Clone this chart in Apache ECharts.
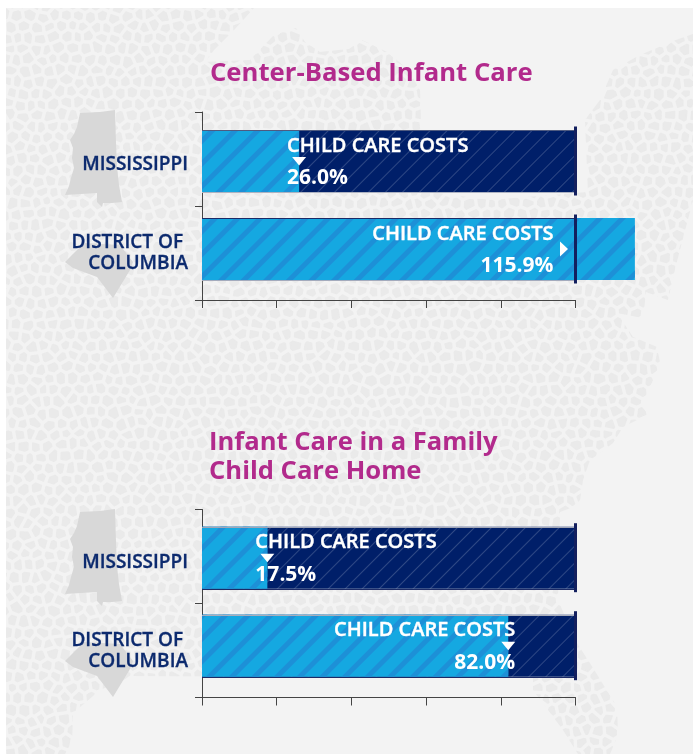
<!DOCTYPE html>
<html>
<head>
<meta charset="utf-8">
<style>
  html, body { margin: 0; padding: 0; background: #fff; }
  #chart { width: 693px; height: 754px; }
</style>
</head>
<body>
<div id="chart"></div>
<script src="https://cdn.jsdelivr.net/npm/echarts@6/dist/echarts.min.js"></script>
<script>
const categories = ['MISSISSIPPI', 'DISTRICT OF \nCOLUMBIA']
const budgetShare = [100, 100]
const centerCosts = [26.0, 115.9]
const familyCosts = [17.5, 82.0]
const calloutHeading = 'CHILD CARE COSTS'

const FONT = '"Open Sans", "Noto Sans", sans-serif'
const LIGHT = '#15a8e1'
const NAVY = '#001f69'
const GRID_LEFT = 202
const GRID_WIDTH = 373.5
const AXIS_TOPS = [112, 509.5]
const AXIS_HEIGHT = 188
// bars and row names do not sit in the middle of the axis bands, so each gets a hidden grid
const BAR_TOPS = [117, 513.7]
const BAR_HEIGHT = 176
const LABEL_TOPS = [120, 517.6]
const LABEL_HEIGHT = 178
const STATE_SHIFT = [0, 399]
// top and bottom rule of each track, the two panels differ a little
const EDGES = [
  [['#4f5b80', '#aeb3c2'], ['#1c2a66', '#a4abbd']],
  [['#a0a5b6', '#1c2a66'], ['#a9adba', '#1c2a66']]
]

const mississippi = [[80, 113], [100, 112], [115, 110], [116, 143], [117, 167], [119, 185], [122, 202], [112, 203],
  [103, 203], [102, 207], [97, 202], [97, 193], [65, 195], [69, 186], [71, 178], [74, 168], [72, 158], [73, 148],
  [70, 140], [74, 134], [77, 127]]
const district = [[84, 243], [120, 245], [133, 262], [130, 270], [113, 298], [97, 277], [73, 268], [65, 262]]

// outline of the pebbled map behind the charts
const mapOutline = [[6, 8], [254, 8], [234, 30], [214, 50], [205, 62], [250, 60], [274, 35], [296, 28], [305, 42],
  [320, 52], [349, 49], [362, 40], [389, 53], [408, 70], [420, 90], [421, 125], [430, 192], [490, 200], [588, 192],
  [585, 120], [600, 100], [613, 70], [640, 55], [676, 40], [693, 34], [693, 200], [676, 265], [668, 300], [646, 292],
  [643, 318], [617, 313], [633, 337], [657, 347], [660, 363], [653, 380], [643, 403], [647, 415], [623, 427],
  [613, 443], [600, 453], [590, 460], [583, 480], [580, 500], [573, 507], [560, 512], [558, 600], [575, 640],
  [593, 668], [617, 707], [618, 735], [610, 754], [578, 754], [563, 730], [533, 690], [533, 678], [133, 676],
  [100, 690], [73, 713], [72, 743], [65, 754], [6, 754]]

// keep the part of a polygon on the near side of a line
function clipPolygon (poly, mx, my, nx, ny) {
  const out = []
  poly.forEach((p, i) => {
    const q = poly[(i + 1) % poly.length]
    const dp = (p[0] - mx) * nx + (p[1] - my) * ny
    const dq = (q[0] - mx) * nx + (q[1] - my) * ny
    if (dp <= 0) out.push(p)
    if (dp * dq < 0) {
      const t = dp / (dp - dq)
      out.push([p[0] + (q[0] - p[0]) * t, p[1] + (q[1] - p[1]) * t])
    }
  })
  return out
}

// background texture only: shrunken voronoi cells around shaken grid points
function pebbleTile () {
  const tile = document.createElement('canvas')
  tile.width = 693
  tile.height = 754
  const ctx = tile.getContext('2d')
  const shake = (a, b) => {
    const s = Math.sin(a * 12.9898 + b * 78.233) * 43758.5453
    return s - Math.floor(s) - 0.5
  }
  const COLS = 60
  const ROWS = 72
  const site = (c, r) => [
    c * 12 + (r % 2) * 6 + shake(c, r) * 6 - 6,
    r * 11 + shake(r + 3, c + 7) * 6 - 6
  ]
  ctx.fillStyle = '#eaeaea'
  ctx.strokeStyle = '#eaeaea'
  ctx.lineWidth = 1.4
  ctx.lineJoin = 'round'
  for (let r = 0; r < ROWS; r++) {
    for (let c = 0; c < COLS; c++) {
      const s = site(c, r)
      let poly = [[s[0] - 9, s[1] - 9], [s[0] + 9, s[1] - 9], [s[0] + 9, s[1] + 9], [s[0] - 9, s[1] + 9]]
      for (let dr = -2; dr <= 2; dr++) {
        for (let dc = -2; dc <= 2; dc++) {
          if (!dr && !dc) continue
          const o = site(c + dc, r + dr)
          const len = Math.hypot(o[0] - s[0], o[1] - s[1])
          const nx = (o[0] - s[0]) / len
          const ny = (o[1] - s[1]) / len
          const mx = (o[0] + s[0]) / 2 - nx * 2.4
          const my = (o[1] + s[1]) / 2 - ny * 2.4
          poly = clipPolygon(poly, mx, my, nx, ny)
        }
      }
      if (poly.length < 3) continue
      ctx.beginPath()
      poly.forEach(p => ctx.lineTo(p[0], p[1]))
      ctx.closePath()
      ctx.fill()
      ctx.stroke()
    }
  }
  return tile
}

function stateShapes () {
  const shapes = []
  STATE_SHIFT.forEach(dy => {
    ;[mississippi, district].forEach(outline => {
      shapes.push({
        type: 'polygon',
        silent: true,
        shape: { points: outline.map(p => [p[0], p[1] + dy]) },
        style: { fill: '#d8d8d8' }
      })
    })
  })
  return shapes
}

function renderEdges (panel) {
  return (params, api) => {
    const row = api.value(1)
    const y = api.coord([0, row])[1]
    const x0 = api.coord([0, row])[0]
    const x1 = api.coord([api.value(0), row])[0]
    const half = 31
    const colors = EDGES[panel][row]
    return {
      type: 'group',
      children: [-half, half].map((d, i) => ({
        type: 'line',
        shape: { x1: x0, y1: Math.round(y + d) + 0.5, x2: x1, y2: Math.round(y + d) + 0.5 },
        style: { stroke: colors[i], lineWidth: 1 }
      }))
    }
  }
}

function renderCallout (params, api) {
  const value = api.value(0)
  const row = api.value(1)
  const [endX, midY] = api.coord([value, row])
  const over = value > 100
  const anchorRight = value > 50
  const lineX = api.coord([100, row])[0]
  const textX = over ? lineX - 22 : (anchorRight ? endX + 7 : endX - 12)
  const points = over
    ? [[lineX - 15.5, midY - 7.5], [lineX - 7.5, midY], [lineX - 15.5, midY + 7.5]]
    : [[endX - 7, midY - 4], [endX + 7, midY - 4], [endX, midY + 4.5]]
  const text = (str, y, font, stroke) => ({
    type: 'text',
    style: {
      text: str,
      x: textX,
      y,
      fill: '#fff',
      stroke: '#fff',
      lineWidth: stroke,
      align: anchorRight ? 'right' : 'left',
      verticalAlign: 'middle',
      font
    }
  })
  return {
    type: 'group',
    children: [
      text(calloutHeading, midY - 15, '600 20px ' + FONT, 0.4),
      { type: 'polygon', shape: { points }, style: { fill: '#fff' } },
      text(value.toFixed(1) + '%', midY + 17.5, '700 21px ' + FONT, 0)
    ]
  }
}

// axis indexes: 0,1 visible frames, 2,3 hidden bar grids, 4,5 hidden row name grids
function panelSeries (panel, costs) {
  const base = { xAxisIndex: panel + 2, yAxisIndex: panel + 2 }
  const rows = data => data.map((v, i) => [v, i])
  return [
    {
      ...base,
      type: 'bar',
      data: budgetShare,
      barWidth: 62,
      barGap: '-100%',
      itemStyle: {
        color: NAVY,
        decal: {
          symbol: 'rect',
          symbolSize: 1,
          color: 'rgba(255,255,255,0.18)',
          dashArrayX: [1, 0],
          dashArrayY: [1, 11],
          rotation: -Math.PI / 4
        }
      }
    },
    {
      ...base,
      type: 'bar',
      data: costs,
      barWidth: 62,
      barGap: '-100%',
      clip: false,
      itemStyle: {
        color: LIGHT,
        decal: {
          symbol: 'rect',
          symbolSize: 1,
          color: '#1d90d7',
          dashArrayX: [1, 0],
          dashArrayY: [5, 11],
          rotation: -Math.PI / 4
        }
      }
    },
    { ...base, type: 'custom', z: 3, data: rows(budgetShare), renderItem: renderEdges(panel) },
    {
      ...base,
      type: 'scatter',
      z: 4,
      data: rows(budgetShare),
      symbol: 'rect',
      symbolSize: [3, 69],
      itemStyle: { color: '#131f5e', opacity: 1 }
    },
    { ...base, type: 'custom', z: 5, data: rows(costs), renderItem: renderCallout }
  ]
}

const chartInstance = echarts.init(document.getElementById('chart'))

const axisLine = { show: true, lineStyle: { color: '#444', width: 1 } }

const valueAxis = (gridIndex, visible) => ({
  type: 'value',
  gridIndex,
  min: 0,
  max: 100,
  interval: 20,
  show: visible,
  axisLine,
  axisTick: { show: true, length: 8, lineStyle: { color: '#444' } },
  axisLabel: { show: false },
  splitLine: { show: false }
})

const hiddenRows = (gridIndex, axisLabel) => ({
  type: 'category',
  gridIndex,
  inverse: true,
  data: categories,
  axisLine: { show: false },
  axisTick: { show: false },
  axisLabel
})

const rowNames = {
  margin: 14,
  fontFamily: FONT,
  fontSize: 19,
  fontWeight: 600,
  color: '#0c2a6e',
  textBorderColor: '#0c2a6e',
  textBorderWidth: 0.3,
  lineHeight: 21
}

const initOption = {
  animation: false,
  title: [
    {
      text: 'Center-Based Infant Care',
      left: 205,
      top: 56,
      textStyle: { fontFamily: FONT, fontSize: 25.7, fontWeight: 700, color: '#b22a8c' }
    },
    {
      text: 'Infant Care in a Family\nChild Care Home',
      left: 204,
      top: 423,
      textStyle: { fontFamily: FONT, fontSize: 25.6, fontWeight: 700, color: '#b22a8c', lineHeight: 29 }
    }
  ],
  grid: [
    ...AXIS_TOPS.map(top => ({ left: GRID_LEFT, top, width: GRID_WIDTH, height: AXIS_HEIGHT })),
    ...BAR_TOPS.map(top => ({ left: GRID_LEFT, top, width: GRID_WIDTH, height: BAR_HEIGHT })),
    ...LABEL_TOPS.map(top => ({ left: GRID_LEFT, top, width: GRID_WIDTH, height: LABEL_HEIGHT }))
  ],
  xAxis: [
    valueAxis(0, true), valueAxis(1, true),
    valueAxis(2, false), valueAxis(3, false),
    valueAxis(4, false), valueAxis(5, false)
  ],
  yAxis: [
    ...AXIS_TOPS.map((top, i) => ({
      type: 'category',
      gridIndex: i,
      inverse: true,
      data: categories,
      axisLine,
      axisTick: { show: true, length: 7, lineStyle: { color: '#444' } },
      axisLabel: { show: false }
    })),
    hiddenRows(2, { show: false }),
    hiddenRows(3, { show: false }),
    hiddenRows(4, rowNames),
    hiddenRows(5, rowNames)
  ],
  graphic: [
    { type: 'rect', silent: true, shape: { x: 0, y: 0, width: 693, height: 754 }, style: { fill: '#fff' } },
    { type: 'rect', silent: true, shape: { x: 6, y: 8, width: 687, height: 746 }, style: { fill: '#f3f3f3' } },
    {
      type: 'polygon',
      silent: true,
      shape: { points: mapOutline },
      style: { fill: { image: pebbleTile(), repeat: 'repeat' } }
    },
    ...stateShapes()
  ],
  series: [...panelSeries(0, centerCosts), ...panelSeries(1, familyCosts)]
}

chartInstance.setOption(initOption)
</script>
</body>
</html>
